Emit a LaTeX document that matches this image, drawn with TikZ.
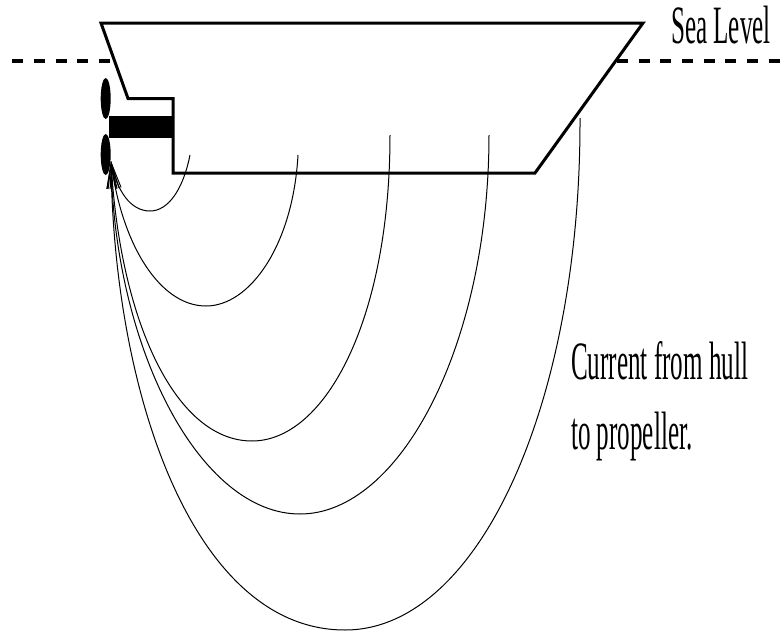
\documentclass[tikz,border=0pt]{standalone}
\usepackage{fontspec}
\setmainfont{Liberation Serif}
\usetikzlibrary{arrows.meta}
\begin{document}
\begin{tikzpicture}[x=1pt,y=-1pt,
  hull/.style={line width=3pt,line join=miter},
  sea/.style={line width=3.8pt,dash pattern=on 11pt off 10.67pt},
  cur/.style={line width=1pt,-{Straight Barb[length=25pt,width=9pt,line width=1pt]}},
  lab/.style={inner sep=0pt,font=\fontsize{54}{54}\selectfont,xscale=0.465,anchor=base west}]
\useasboundingbox (0,0) rectangle (780,632);
\coordinate (seaL) at (12.3,61);
\coordinate (seaR) at (780,61);
\coordinate (tip) at (111,161);
\draw[sea] (seaL) -- (114,61);
\draw[sea] (617,61) -- (seaR);
\draw[hull] (173,173) -- (535,173) -- (643,23) -- (101,23) -- (128,98.5) -- (173,98.5) -- cycle;
\fill (109,116) rectangle (174,138);
\fill (105.7,98.5) ellipse [x radius=5,y radius=20.5];
\fill (105.7,154.5) ellipse [x radius=5,y radius=20.5];
\draw[cur] (190,155) .. controls (183,190) and (168,211) .. (150,211) .. controls (130,211) and (117,190) .. (tip);
\draw[cur] (298,155) .. controls (293,245) and (250,306) .. (206,306) .. controls (160,306) and (122,245) .. (tip);
\draw[cur] (390,135) .. controls (390,320) and (325,441) .. (252,441) .. controls (175,441) and (120,320) .. (tip);
\draw[cur] (489,135) .. controls (489,345) and (400,514) .. (300,514) .. controls (200,514) and (115,350) .. (tip);
\draw[cur] (580,118) .. controls (581,400) and (480,630) .. (345,630) .. controls (195,630) and (114,398) .. (tip);
\node[lab] (sl) at (671,43) {Sea Level};
\node[lab] (c1) at (571,379) {Current from hull};
\node[lab] (c2) at (571,449) {to propeller.};
\end{tikzpicture}
\end{document}
